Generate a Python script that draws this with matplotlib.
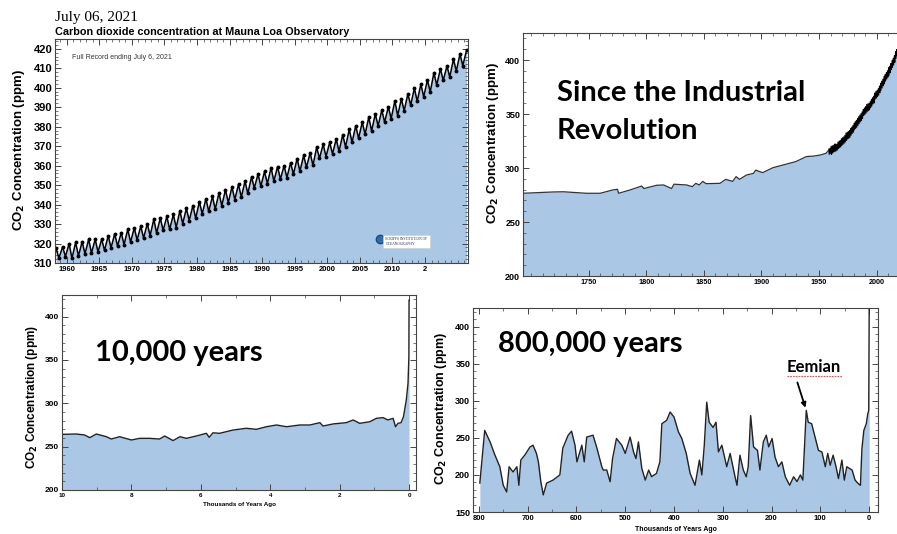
import numpy as np
import matplotlib
matplotlib.use("Agg")
import matplotlib.pyplot as plt
from matplotlib.ticker import MultipleLocator, FixedLocator
from matplotlib.lines import Line2D

# --- Mauna Loa: yearly spring peaks and autumn troughs (ppm)
ml_years = list(range(1958, 2022))
ml_peak = [317.5, 318.3, 320.0, 320.6, 321.0, 322.2, 322.2, 322.2, 324.0, 325.0,
           325.6, 327.3, 328.1, 328.9, 330.2, 332.5, 333.1, 333.9, 334.9, 336.8,
           338.0, 339.5, 341.5, 343.0, 344.2, 346.0, 347.6, 349.0, 350.4, 352.0,
           354.2, 355.7, 357.0, 359.0, 359.5, 360.0, 361.5, 363.6, 365.2, 366.5,
           369.5, 371.0, 371.9, 373.6, 375.9, 378.6, 380.5, 382.3, 384.9, 386.5,
           388.5, 390.2, 393.2, 394.2, 396.8, 399.8, 401.8, 404.0, 407.7, 409.7,
           411.2, 414.7, 417.3, 419.1]
ml_trough = [312.5, 313.3, 312.4, 313.6, 314.7, 315.1, 315.7, 316.5, 317.8, 318.7,
             319.4, 320.7, 321.8, 322.8, 324.0, 325.4, 326.7, 327.3, 328.2, 330.2,
             331.8, 333.0, 335.2, 336.5, 337.6, 339.4, 341.0, 342.6, 343.8, 345.7,
             348.5, 349.4, 350.7, 352.0, 353.0, 353.8, 355.6, 357.1, 359.2, 360.1,
             363.7, 364.6, 366.0, 367.3, 369.6, 371.9, 374.0, 376.1, 377.8, 380.4,
             382.3, 384.1, 385.7, 388.2, 391.0, 393.0, 395.3, 397.8, 401.4, 403.7,
             405.5, 408.5, 411.3]

# --- ice core record since 1693 (year, ppm)
ice_years = [1693, 1719, 1728, 1748, 1760, 1771, 1775, 1776, 1786, 1796, 1798,
             1809, 1815, 1822, 1824, 1835, 1840, 1843, 1846, 1849, 1852, 1864,
             1869, 1875, 1878, 1881, 1887, 1893, 1895, 1901, 1910, 1922, 1930,
             1939, 1945, 1951, 1956, 1958]
ice_co2 = [276.6, 277.8, 278.0, 276.6, 276.6, 279.7, 280.3, 276.6, 279.7, 283.3,
           281.0, 284.0, 284.3, 281.0, 285.0, 284.3, 282.7, 285.8, 284.3, 287.6,
           285.5, 285.8, 289.5, 287.6, 292.0, 289.5, 293.5, 295.0, 298.0, 295.7,
           300.3, 303.7, 306.0, 310.6, 311.0, 312.0, 313.6, 316.0]

# --- last 10,000 years (thousands of years ago, ppm)
holo_age = [10.0, 9.59, 9.35, 9.2, 9.01, 8.72, 8.58, 8.34, 8.0, 7.76, 7.47, 7.19,
            7.04, 6.8, 6.6, 6.42, 6.13, 5.84, 5.76, 5.65, 5.46, 5.07, 4.69, 4.4,
            4.11, 3.82, 3.53, 3.15, 2.86, 2.57, 2.48, 2.19, 1.81, 1.61, 1.42, 1.13,
            0.94, 0.75, 0.61, 0.46, 0.39, 0.32, 0.23, 0.16, 0.08, 0.03, 0.005, 0.0]
holo_co2 = [264.2, 264.6, 263.5, 260.4, 264.6, 261.5, 258.8, 261.5, 257.7, 259.6,
            259.6, 258.8, 262.3, 257.0, 261.5, 259.6, 262.3, 265.4, 260.8, 266.0,
            265.4, 269.2, 271.2, 270.0, 273.0, 275.0, 273.0, 275.0, 275.0, 277.7,
            273.8, 276.2, 277.7, 280.8, 276.9, 278.8, 282.7, 283.5, 280.8, 282.7,
            273.0, 276.9, 277.7, 284.6, 303.8, 323.0, 353.8, 419.0]

# --- 800,000 years (thousands of years ago, ppm)
ice800_age = [798, 788, 777, 767, 757, 750, 743, 738, 730, 722, 718, 714, 706, 695,
              689, 682, 678, 673, 668, 661, 648, 634, 628, 617, 610, 603, 599, 589,
              584, 579, 566, 558, 548, 545, 538, 531, 526, 518, 507, 500, 490, 483,
              478, 473, 466, 459, 452, 446, 436, 429, 425, 415, 408, 400, 391, 384,
              375, 367, 357, 348, 343, 338, 333, 328, 320, 314, 309, 302, 292, 285,
              275, 271, 265, 258, 252, 248, 243, 237, 229, 224, 217, 211, 206, 199,
              193, 186, 179, 172, 163, 155, 148, 141, 136, 133, 129, 125, 118, 111,
              104, 97, 90, 85, 80, 74, 68, 63, 56, 51, 46, 35, 29, 22, 18, 15, 11,
              6, 3, 1, 0]
ice800_co2 = [189, 260, 244.5, 226.6, 211, 186, 177, 211, 204, 211, 186, 220,
              226.6, 237.8, 240, 229, 217.6, 190.8, 173, 189, 193, 200, 236, 253.5,
              259, 240, 217.6, 240, 217.6, 251, 253.5, 236, 211, 206.5, 206.7, 190.8,
              222, 249, 240, 229, 251, 231, 222, 244.5, 208.6, 193, 206.5, 197.6,
              202, 217.6, 269, 273.6, 284.8, 278, 258, 249, 229, 202, 186, 220, 200,
              240, 298, 271, 264, 271, 231, 240, 211, 229, 197.5, 186, 226.6, 206.5,
              197.5, 211, 280, 237.8, 233, 206.5, 244.5, 253.5, 237.8, 249, 224, 211,
              217.6, 197.5, 186, 197.5, 191, 200, 193, 233, 287, 271, 269, 251, 233,
              231, 211, 229, 213, 226.6, 211, 195, 220, 193, 211, 206.5, 193, 188,
              186, 235, 260, 269, 282, 287, 430]
eemian_age, eemian_co2 = 129, 287

BLUE = "#abc7e6"
W, H = 897, 534
fig = plt.figure(figsize=(W / 100, H / 100), dpi=100)


def box(l, t, r, b):
    return [l / W, 1 - b / H, (r - l) / W, (b - t) / H]


def px(x, y):
    return x / W, 1 - y / H


def style(ax, xs, ys):
    for s in ax.spines.values():
        s.set_color("#444444")
        s.set_linewidth(0.8)
    ax.tick_params(which="both", top=True, right=True, direction="in", color="#444444")
    ax.tick_params(which="major", length=4, width=0.7)
    ax.tick_params(which="minor", length=2, width=0.5)
    ax.tick_params(axis="x", labelsize=xs, pad=2)
    ax.tick_params(axis="y", labelsize=ys, pad=2)
    for lab in ax.get_xticklabels() + ax.get_yticklabels():
        lab.set_fontweight("bold")
        lab.set_family("Liberation Sans")


# ---------------- panel 1: Mauna Loa
ml_x, ml_y = [], []
for i, yr in enumerate(ml_years):
    ml_x.append(yr + 0.37)
    ml_y.append(ml_peak[i])
    if i < len(ml_trough):
        ml_x.append(yr + 0.8)
        ml_y.append(ml_trough[i])

ax1 = fig.add_axes(box(55, 39, 468, 263))
ax1.fill_between(ml_x, ml_y, 300, color=BLUE, lw=0)
ax1.plot(ml_x, ml_y, color="black", lw=1.1, marker="o", ms=1.8)
ax1.set_xlim(1958.2, 2021.6)
ax1.set_ylim(310, 425)
ax1.xaxis.set_major_locator(FixedLocator(range(1960, 2020, 5)))
ax1.set_xticklabels([str(v) for v in range(1960, 2015, 5)] + ["2"])
ax1.xaxis.set_minor_locator(MultipleLocator(1))
ax1.yaxis.set_major_locator(MultipleLocator(10))
ax1.yaxis.set_minor_locator(MultipleLocator(2))
style(ax1, 5.5, 8)
ax1.text(0.04, 0.91, "Full Record ending July 6, 2021", transform=ax1.transAxes,
         fontsize=5, color="#333333", family="Liberation Sans")
ax1.text(0.80, 0.08, "SCRIPPS INSTITUTION OF\nOCEANOGRAPHY", transform=ax1.transAxes,
         fontsize=2.6, family="Liberation Serif", color="#203050",
         bbox=dict(facecolor="white", edgecolor="#cccccc", lw=0.4, pad=1.5))
ax1.plot([0.787], [0.105], transform=ax1.transAxes, marker="o", ms=6,
         color="#2f6fa8", mec="#1d4a7a")
fig.text(*px(55, 21), "July 06, 2021", fontsize=11, family="Liberation Serif")
fig.text(*px(55, 35), "Carbon dioxide concentration at Mauna Loa Observatory",
         fontsize=7.8, fontweight="bold", family="Liberation Sans")
fig.text(*px(19, 150), "CO$_\\mathbf{2}$ Concentration (ppm)", rotation=90,
         ha="center", va="center", fontsize=9.5, fontweight="bold",
         family="Liberation Sans")

# ---------------- panel 2: since the industrial revolution
ind_x = ice_years + ml_x
ind_y = ice_co2 + ml_y
ax2 = fig.add_axes(box(523, 33, 905, 276))
ax2.fill_between(ind_x, ind_y, 150, color=BLUE, lw=0)
ax2.plot(ice_years, ice_co2, color="#333333", lw=0.9)
ax2.plot(ml_x, ml_y, color="black", lw=0.7)
ax2.set_xlim(1693, 2024.6)
ax2.set_ylim(200, 425)
ax2.xaxis.set_major_locator(FixedLocator(range(1750, 2050, 50)))
ax2.xaxis.set_minor_locator(MultipleLocator(10))
ax2.yaxis.set_major_locator(MultipleLocator(50))
ax2.yaxis.set_minor_locator(MultipleLocator(10))
style(ax2, 5.2, 6.5)
fig.text(*px(557, 101), "Since the Industrial", fontsize=21, fontweight="bold",
         family="Lato")
fig.text(*px(557, 139), "Revolution", fontsize=21, fontweight="bold", family="Lato")
fig.text(*px(493, 143), "CO$_\\mathbf{2}$ Concentration (ppm)", rotation=90,
         ha="center", va="center", fontsize=9.5, fontweight="bold",
         family="Liberation Sans")

# ---------------- panel 3: 10,000 years
ax3 = fig.add_axes(box(62, 295, 416, 490))
ax3.fill_between(holo_age, holo_co2, 150, color=BLUE, lw=0)
ax3.plot(holo_age, holo_co2, color="#222222", lw=1.0)
ax3.set_xlim(10, -0.2)
ax3.set_ylim(200, 425)
ax3.xaxis.set_major_locator(MultipleLocator(2))
ax3.xaxis.set_minor_locator(MultipleLocator(1))
ax3.yaxis.set_major_locator(MultipleLocator(50))
ax3.yaxis.set_minor_locator(MultipleLocator(10))
style(ax3, 4.5, 6)
ax3.set_xlabel("Thousands of Years Ago", fontsize=4.5, fontweight="bold",
               family="Liberation Sans", labelpad=3)
fig.text(*px(95, 361), "10,000 years", fontsize=21, fontweight="bold", family="Lato")
fig.text(*px(32, 397), "CO$_\\mathbf{2}$ Concentration (ppm)", rotation=90,
         ha="center", va="center", fontsize=8.5, fontweight="bold",
         family="Liberation Sans")

# ---------------- panel 4: 800,000 years
ax4 = fig.add_axes(box(473, 308, 878, 512))
ax4.fill_between(ice800_age, ice800_co2, 100, color=BLUE, lw=0)
ax4.plot(ice800_age, ice800_co2, color="#222222", lw=1.0)
ax4.set_xlim(812, -18)
ax4.set_ylim(150, 425)
ax4.xaxis.set_major_locator(MultipleLocator(100))
ax4.xaxis.set_minor_locator(MultipleLocator(50))
ax4.yaxis.set_major_locator(MultipleLocator(50))
ax4.yaxis.set_minor_locator(MultipleLocator(10))
style(ax4, 5.5, 6.5)
ax4.set_xlabel("Thousands of Years Ago", fontsize=5, fontweight="bold",
               family="Liberation Sans", labelpad=3)
fig.text(*px(498, 352), "800,000 years", fontsize=21, fontweight="bold", family="Lato")
ax4.annotate("", xy=(eemian_age, eemian_co2), xytext=(-7, 22),
             textcoords="offset points",
             arrowprops=dict(arrowstyle="-|>", color="black", lw=1.3,
                             mutation_scale=7))
fig.text(*px(787, 372), "Eemian", fontsize=12, fontweight="bold", family="Lato")
# red spell-check squiggle under the word
fig.add_artist(Line2D([787 / W, 842 / W], [1 - 376 / H, 1 - 376 / H],
                      color="#e05050", lw=0.8, ls=(0, (1.5, 1))))
fig.text(*px(441, 408), "CO$_\\mathbf{2}$ Concentration (ppm)", rotation=90,
         ha="center", va="center", fontsize=9, fontweight="bold",
         family="Liberation Sans")

fig.savefig("out.png", dpi=100)
